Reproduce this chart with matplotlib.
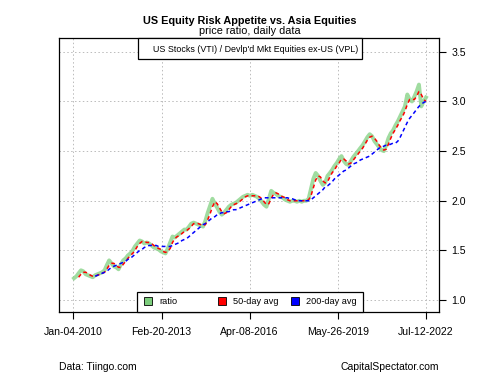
import matplotlib
matplotlib.use("Agg")
import matplotlib.pyplot as plt
import pandas as pd

plt.rcParams['font.family'] = ['Liberation Sans', 'DejaVu Sans']

ratio = [
    1.22, 1.24, 1.27, 1.30, 1.29, 1.26, 1.25, 1.24, 1.23, 1.25, 1.26, 1.27,
    1.28, 1.30, 1.35, 1.40, 1.37, 1.34, 1.33, 1.31, 1.36, 1.40, 1.42, 1.45,
    1.47, 1.50, 1.54, 1.57, 1.60, 1.59, 1.57, 1.58, 1.57, 1.55, 1.53, 1.52,
    1.51, 1.49, 1.48, 1.47, 1.52, 1.58, 1.64, 1.63, 1.65, 1.67, 1.69, 1.71,
    1.71, 1.74, 1.77, 1.78, 1.77, 1.76, 1.75, 1.74, 1.80, 1.88, 1.95, 2.02,
    1.97, 1.93, 1.89, 1.86, 1.88, 1.91, 1.94, 1.96, 1.97, 1.98, 2.00, 2.02,
    2.04, 2.05, 2.06, 2.05, 2.06, 2.05, 2.04, 2.02, 1.99, 1.96, 1.94, 2.02,
    2.10, 2.08, 2.07, 2.05, 2.04, 2.03, 2.01, 2.00, 1.99, 2.00, 2.00, 1.99,
    2.00, 1.99, 2.00, 2.00, 2.02, 2.12, 2.22, 2.28, 2.25, 2.20, 2.16, 2.18,
    2.25, 2.28, 2.31, 2.35, 2.38, 2.42, 2.45, 2.40, 2.37, 2.36, 2.40, 2.44,
    2.47, 2.50, 2.53, 2.56, 2.60, 2.64, 2.67, 2.65, 2.60, 2.57, 2.54, 2.51,
    2.50, 2.56, 2.63, 2.68, 2.71, 2.76, 2.80, 2.85, 2.90, 2.95, 3.07, 3.02,
    3.00, 3.05, 3.10, 3.17, 2.95, 3.00, 3.04,
]
ma50 = [
    1.23, 1.26, 1.28, 1.28, 1.27, 1.25, 1.24, 1.24, 1.25, 1.26,
    1.27, 1.28, 1.31, 1.35, 1.37, 1.37, 1.35, 1.33, 1.33, 1.36, 1.39, 1.42,
    1.45, 1.47, 1.50, 1.54, 1.57, 1.59, 1.59, 1.58, 1.58, 1.57, 1.55, 1.53,
    1.52, 1.51, 1.49, 1.48, 1.49, 1.52, 1.58, 1.62, 1.64, 1.65, 1.67, 1.69,
    1.70, 1.72, 1.74, 1.77, 1.77, 1.77, 1.76, 1.75, 1.76, 1.81, 1.87, 1.94,
    1.99, 1.97, 1.93, 1.89, 1.87, 1.88, 1.91, 1.94, 1.96, 1.97, 1.98, 2.00,
    2.02, 2.04, 2.05, 2.05, 2.05, 2.05, 2.05, 2.04, 2.02, 1.99, 1.96, 1.97,
    2.02, 2.07, 2.08, 2.07, 2.05, 2.04, 2.03, 2.01, 2.00, 2.00, 2.00, 2.00,
    2.00, 2.00, 2.00, 2.00, 2.01, 2.05, 2.13, 2.21, 2.25, 2.24, 2.20, 2.18,
    2.19, 2.24, 2.28, 2.31, 2.35, 2.38, 2.42, 2.42, 2.40, 2.37, 2.38, 2.41,
    2.44, 2.47, 2.50, 2.53, 2.57, 2.61, 2.64, 2.65, 2.63, 2.60, 2.56, 2.53,
    2.51, 2.52, 2.57, 2.63, 2.68, 2.72, 2.76, 2.81, 2.85, 2.90, 2.97, 3.02,
    3.02, 3.02, 3.05, 3.10, 3.07, 3.02, 3.00,
]
ma200 = [
    1.24, 1.25, 1.26,
    1.27, 1.28, 1.29, 1.31, 1.33, 1.34, 1.35, 1.36, 1.37, 1.38, 1.39, 1.41,
    1.42, 1.44, 1.46, 1.48, 1.50, 1.51, 1.53, 1.54, 1.55, 1.55, 1.55, 1.55,
    1.54, 1.54, 1.54, 1.54, 1.54, 1.54, 1.55, 1.56, 1.57, 1.58, 1.60, 1.61,
    1.62, 1.64, 1.66, 1.68, 1.70, 1.72, 1.74, 1.76, 1.77, 1.79, 1.81, 1.83,
    1.84, 1.86, 1.87, 1.88, 1.88, 1.89, 1.89, 1.90, 1.91, 1.91, 1.92, 1.93,
    1.94, 1.95, 1.96, 1.97, 1.98, 1.99, 2.00, 2.01, 2.02, 2.03, 2.03, 2.03,
    2.03, 2.03, 2.03, 2.03, 2.03, 2.03, 2.03, 2.03, 2.02, 2.02, 2.01, 2.01,
    2.00, 2.00, 2.00, 2.00, 2.00, 2.01, 2.03, 2.05, 2.07, 2.09, 2.11, 2.14,
    2.15, 2.17, 2.19, 2.22, 2.24, 2.26, 2.28, 2.30, 2.31, 2.33, 2.35, 2.37,
    2.38, 2.39, 2.41, 2.42, 2.43, 2.44, 2.45, 2.47, 2.49, 2.51, 2.53, 2.54,
    2.55, 2.56, 2.56, 2.57, 2.58, 2.58, 2.60, 2.64, 2.69, 2.74, 2.79, 2.83,
    2.86, 2.89, 2.92, 2.95, 2.97, 2.99, 3.00,
]
tick_dates = ["2010-01-04", "2013-02-20", "2016-04-08", "2019-05-26", "2022-07-12"]
tick_labels = ["Jan-04-2010", "Feb-20-2013", "Apr-08-2016", "May-26-2019", "Jul-12-2022"]
y_ticks = [1.0, 1.5, 2.0, 2.5, 3.0, 3.5]

dates = pd.date_range("2010-01-01", periods=len(ratio), freq="MS") + pd.Timedelta(days=11)
d50 = dates[len(ratio) - len(ma50):]
d200 = dates[len(ratio) - len(ma200):]

fig = plt.figure(figsize=(5, 3.75), dpi=100)
ax = fig.add_axes([0.118, 0.168, 0.76, 0.731])

ax.plot(dates, ratio, color="#8fd68f", lw=2.8, alpha=0.85, zorder=2)
ax.plot(d50, ma50, color="#ff0000", lw=1.1, dashes=(2.5, 2), zorder=3)
ax.plot(d200, ma200, color="#0000ff", lw=1.1, dashes=(2.5, 2), zorder=3)

ax.set_xlim(pd.Timestamp("2009-07-01"), pd.Timestamp("2022-12-28"))
ax.set_ylim(0.88, 3.64)
tdates = pd.to_datetime(tick_dates)
ax.set_xticks(tdates)
ax.set_xticklabels(tick_labels, fontsize=7.6)
ax.yaxis.tick_right()
ax.set_yticks(y_ticks)
ax.set_yticklabels([f"{v:.1f}" for v in y_ticks], fontsize=7.6)
ax.tick_params(axis="both", length=5, width=0.8, colors="black")
ax.tick_params(axis="x", pad=6)
ax.tick_params(axis="y", pad=4)
ax.grid(True, color="#bbbbbb", linestyle=(0, (1.5, 2.5)), lw=0.7)
ax.set_axisbelow(True)
for s in ax.spines.values():
    s.set_linewidth(0.9)

fig.text(0.5, 0.945, "US Equity Risk Appetite vs. Asia Equities", ha="center", va="center",
         fontsize=7.8, fontweight="bold")
fig.text(0.5, 0.916, "price ratio, daily data", ha="center", va="center", fontsize=7.8)

# top label box
fig.patches.append(plt.Rectangle((0.276, 0.843), 0.448, 0.056, transform=fig.transFigure,
                                 fill=True, facecolor="white", edgecolor="black", lw=0.9, zorder=5))
fig.text(0.511, 0.868, "US Stocks (VTI) / Devlp'd Mkt Equities ex-US (VPL)", ha="center",
         va="center", fontsize=6.4, zorder=6)

# bottom legend box
fig.patches.append(plt.Rectangle((0.274, 0.168), 0.452, 0.053, transform=fig.transFigure,
                                 fill=True, facecolor="white", edgecolor="black", lw=0.9, zorder=5))
items = [(0.296, "#7ccd7c", "ratio"), (0.444, "#ff0000", "50-day avg"), (0.590, "#0000ff", "200-day avg")]
for x, c, lab in items:
    fig.patches.append(plt.Rectangle((x - 0.009, 0.188), 0.016, 0.019, transform=fig.transFigure,
                                     facecolor=c, edgecolor="black", lw=0.6, zorder=6))
    fig.text(x + 0.022, 0.196, lab, ha="left", va="center", fontsize=6.6, zorder=6)

fig.text(0.118, 0.021, "Data: Tiingo.com", ha="left", va="center", fontsize=7.5)
fig.text(0.878, 0.021, "CapitalSpectator.com", ha="right", va="center", fontsize=7.5)

fig.savefig("out.png", dpi=100)
